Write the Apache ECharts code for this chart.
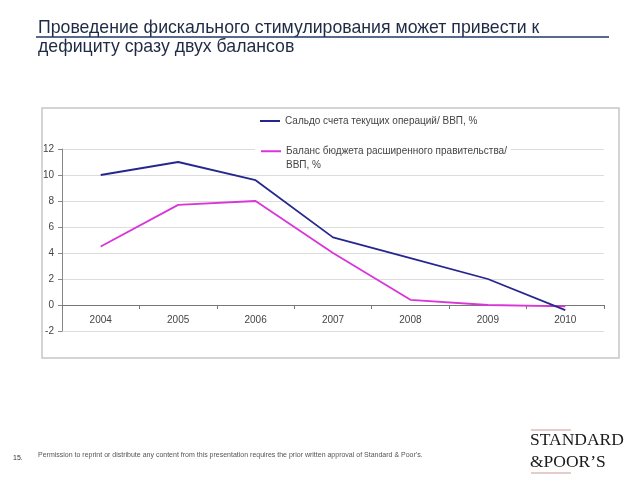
<!DOCTYPE html>
<html><head><meta charset="utf-8">
<script src="https://cdn.jsdelivr.net/npm/echarts@6/dist/echarts.min.js"></script>
<style>html,body{margin:0;padding:0;background:#fff}#c{width:640px;height:480px}</style>
</head><body><div id="c"></div>
<script>
const years = ['2004','2005','2006','2007','2008','2009','2010'];
const currentAccount = [10.0, 11.0, 9.6, 5.2, 3.6, 2.0, -0.4];
const budgetBalance = [4.5, 7.7, 8.0, 4.0, 0.4, 0.0, -0.1];
const seriesNames = ['Сальдо счета текущих операций/ ВВП, %', 'Баланс бюджета расширенного правительства/\nВВП, %'];
const titleLines = ['Проведение фискального стимулирования может привести к', 'дефициту сразу двух балансов'];
const footerText = 'Permission to reprint or distribute any content from this presentation requires the prior written approval of Standard & Poor\'s.';

const chart = echarts.init(document.getElementById('c'), null, {renderer: 'canvas'});
const font = 'Liberation Sans, Arial, sans-serif';
chart.setOption({
  animation: false,
  backgroundColor: '#fff',
  title: {
    text: titleLines.join('\n'), left: 38, top: 18, padding: 0,
    textStyle: {fontFamily: font, fontSize: 17.7, fontWeight: 'normal', color: '#1f2a44', lineHeight: 19.5}
  },
  grid: {left: 62, right: 36, top: 149, bottom: 149},
  legend: [
    {data: [seriesNames[0]], left: 260, top: 116, padding: 0, icon: 'rect', itemWidth: 20, itemHeight: 2,
     textStyle: {fontFamily: font, fontSize: 10, color: '#444'}},
    {data: [seriesNames[1]], left: 255, top: 131, padding: [0, 4, 0, 6], backgroundColor: '#fff',
     icon: 'rect', itemWidth: 20, itemHeight: 2,
     formatter: function (n) { return '\n' + n; },
     textStyle: {fontFamily: font, fontSize: 10, color: '#444', lineHeight: 13.5}}
  ],
  xAxis: {
    type: 'category', data: years, boundaryGap: true, offset: -26,
    axisLine: {onZero: false, lineStyle: {color: '#777', width: 1}},
    axisTick: {show: true, interval: 0, length: 4, lineStyle: {color: '#777'}},
    axisLabel: {fontFamily: font, fontSize: 10, color: '#444', margin: 10},
    splitLine: {show: false}
  },
  yAxis: {
    type: 'value', min: -2, max: 12, interval: 2,
    axisLine: {show: true, lineStyle: {color: '#888'}},
    axisTick: {show: true, length: 4, lineStyle: {color: '#888'}},
    axisLabel: {fontFamily: font, fontSize: 10, color: '#444', margin: 8},
    splitLine: {show: true, lineStyle: {color: '#dcdcdc', width: 1}}
  },
  series: [
    {name: seriesNames[0], type: 'line', data: currentAccount, symbol: 'none', z: 3,
     lineStyle: {color: '#26268f', width: 1.8}, itemStyle: {color: '#26268f'}},
    {name: seriesNames[1], type: 'line', data: budgetBalance, symbol: 'none', z: 2,
     lineStyle: {color: '#d935d9', width: 1.8}, itemStyle: {color: '#d935d9'}}
  ],
  graphic: [
    {type: 'line', z: 10, shape: {x1: 36, y1: 37, x2: 609, y2: 37}, style: {stroke: '#1f3864', lineWidth: 1.3}},
    {type: 'rect', z: -1, shape: {x: 42, y: 108, width: 577, height: 250}, style: {fill: 'none', stroke: '#c6c6c6', lineWidth: 1.5}},
    {type: 'text', left: 13, top: 455, style: {text: '15.', font: '7px ' + font, fill: '#333'}},
    {type: 'text', left: 38, top: 452, style: {text: footerText, font: '7px ' + font, fill: '#555'}},
    {type: 'line', shape: {x1: 531, y1: 430, x2: 571, y2: 430}, style: {stroke: '#c99a9a', lineWidth: 1}},
    {type: 'text', left: 530, top: 431, style: {text: 'STANDARD', font: '17.5px Liberation Serif, Times New Roman, serif', fill: '#1a1a1a'}},
    {type: 'text', left: 530, top: 453, style: {text: '&POOR\u2019S', font: '17.5px Liberation Serif, Times New Roman, serif', fill: '#1a1a1a'}},
    {type: 'line', shape: {x1: 531, y1: 473, x2: 571, y2: 473}, style: {stroke: '#c99a9a', lineWidth: 1}}
  ]
});
</script></body></html>
